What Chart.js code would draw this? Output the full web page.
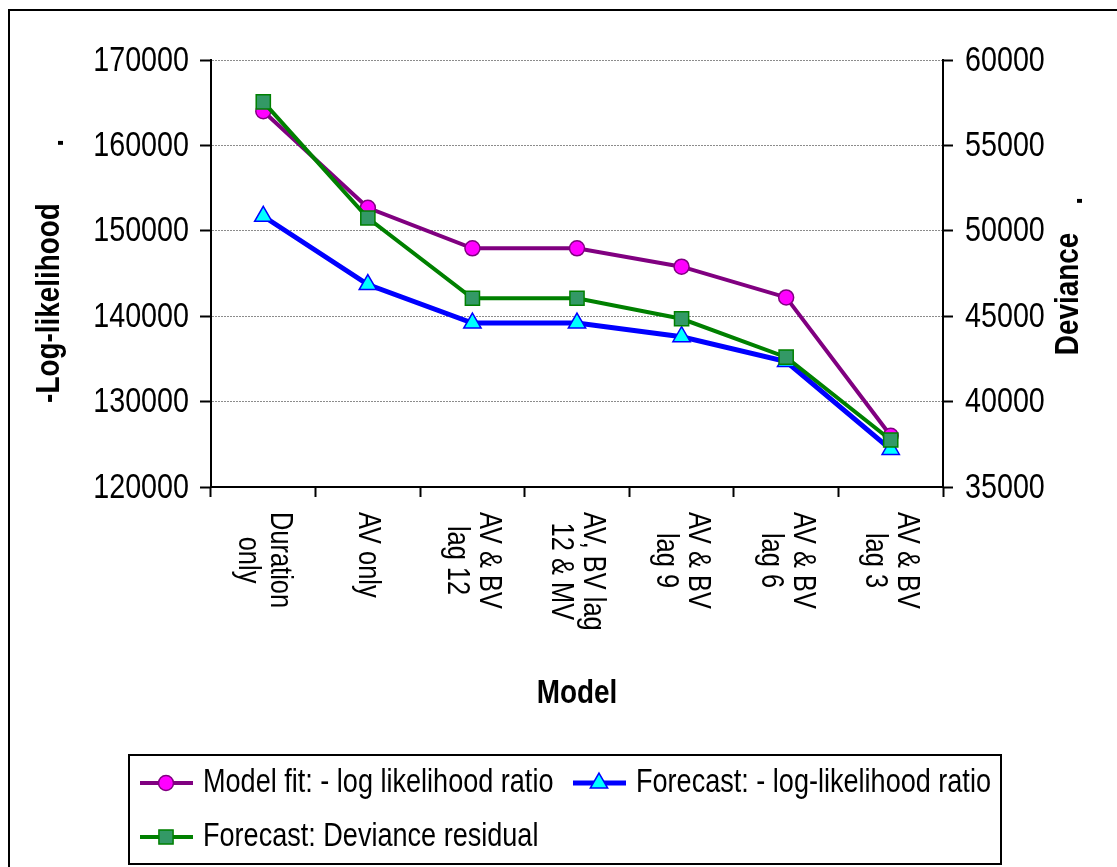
<!DOCTYPE html>
<html>
<head>
<meta charset="utf-8">
<script src="https://cdn.jsdelivr.net/npm/chart.js@4/dist/chart.umd.min.js"></script>
<style>
  html, body { margin: 0; padding: 0; background: #fff; }
  canvas { display: block; }
</style>
</head>
<body>
<canvas id="fitChart" width="1117" height="867"></canvas>
<script>
// Model comparison: model fit vs forecast measures

const models = [
    ['Duration', 'only'],
    ['AV only'],
    ['AV & BV', 'lag 12'],
    ['AV, BV lag', '12 & MV'],
    ['AV & BV', 'lag 9'],
    ['AV & BV', 'lag 6'],
    ['AV & BV', 'lag 3']
];

const modelFitLogLik = [164000, 152700, 147950, 147950, 145800, 142200, 126000];
const forecastLogLik = [151700, 143700, 139200, 139200, 137600, 134700, 124400];
const forecastDeviance = [57550, 50750, 46050, 46050, 44850, 42600, 37750];

const leftTicks = [120000, 130000, 140000, 150000, 160000, 170000];
const rightTicks = [35000, 40000, 45000, 50000, 55000, 60000];

const seriesNames = [
    'Model fit: - log likelihood ratio',
    'Forecast: - log-likelihood ratio',
    'Forecast: Deviance residual'
];

const FONT = "'Liberation Sans', Arial, sans-serif";
const SQUEEZE = 0.82; // no narrow face installed, so squeeze the regular one

// text drawn at (x, y) in the current frame, compressed along its baseline
function narrowText(ctx, txt, x, y) {
    ctx.save();
    ctx.translate(x, y);
    ctx.scale(SQUEEZE, 1);
    ctx.fillText(txt, 0, 0);
    ctx.restore();
}

// draws tick labels, rotated category labels, axis titles, legend box and frame
const extrasPlugin = {
    id: 'extras',
    afterDraw(chart) {
        const ctx = chart.ctx;
        const area = chart.chartArea;
        const xScale = chart.scales.x;
        const yL = chart.scales.y;
        const yR = chart.scales.y1;

        ctx.save();
        ctx.fillStyle = '#000';

        // value axis labels
        ctx.font = '35px ' + FONT;
        ctx.textBaseline = 'middle';
        ctx.textAlign = 'right';
        leftTicks.forEach(v => narrowText(ctx, String(v), area.left - 22, yL.getPixelForValue(v) + 1));
        ctx.textAlign = 'left';
        rightTicks.forEach(v => narrowText(ctx, String(v), area.right + 22, yR.getPixelForValue(v) + 1));

        // category labels, read top to bottom
        ctx.font = '31px ' + FONT;
        ctx.textAlign = 'left';
        const lineH = 32;
        models.forEach((lines, i) => {
            const cx = xScale.getPixelForValue(i);
            const widths = lines.map(l => ctx.measureText(l).width * SQUEEZE);
            const maxW = Math.max(...widths);
            ctx.save();
            ctx.translate(cx, area.bottom + 25);
            ctx.rotate(Math.PI / 2);
            lines.forEach((txt, j) => {
                narrowText(ctx, txt, (maxW - widths[j]) / 2, (j - (lines.length - 1) / 2) * lineH);
            });
            ctx.restore();
        });

        // axis titles
        ctx.font = 'bold 34px ' + FONT;
        ctx.textAlign = 'center';
        narrowText(ctx, 'Model', (area.left + area.right) / 2, 694);

        ctx.save();
        ctx.translate(50, 303);
        ctx.rotate(-Math.PI / 2);
        narrowText(ctx, '-Log-likelihood', 0, 0);
        narrowText(ctx, '.', 160, 4);
        ctx.restore();

        ctx.save();
        ctx.translate(1069, 294);
        ctx.rotate(-Math.PI / 2);
        narrowText(ctx, 'Deviance', 0, 0);
        narrowText(ctx, '.', 93, 4);
        ctx.restore();

        // legend
        const lx = 129, ly = 755, lw = 872, lh = 109;
        ctx.lineWidth = 2;
        ctx.strokeStyle = '#000';
        ctx.strokeRect(lx, ly, lw, lh);

        const slots = [[140, 783], [573, 783], [140, 837]];
        ctx.font = '33px ' + FONT;
        ctx.textAlign = 'left';
        chart.data.datasets.forEach((ds, i) => {
            const [sx, sy] = slots[i];
            ctx.beginPath();
            ctx.lineWidth = ds.borderWidth;
            ctx.strokeStyle = ds.borderColor;
            ctx.moveTo(sx, sy);
            ctx.lineTo(sx + 53, sy);
            ctx.stroke();
            ctx.fillStyle = ds.pointBackgroundColor;
            ctx.strokeStyle = ds.pointBorderColor;
            ctx.lineWidth = ds.pointBorderWidth;
            Chart.helpers.drawPoint(ctx, {
                pointStyle: ds.pointStyle,
                radius: ds.pointRadius,
                rotation: 0,
                borderWidth: ds.pointBorderWidth
            }, sx + 26, sy);
            ctx.fillStyle = '#000';
            narrowText(ctx, ds.label, sx + 63, sy);
        });

        // outer frame
        ctx.lineWidth = 2;
        ctx.strokeStyle = '#000';
        ctx.strokeRect(9, 10, 1200, 1000);
        ctx.restore();
    }
};

const ctx = document.getElementById('fitChart');

new Chart(ctx, {
    type: 'line',
    data: {
        labels: models.map(m => m.join(' ')),
        datasets: [
            {
                label: seriesNames[0],
                data: modelFitLogLik,
                yAxisID: 'y',
                borderColor: '#800080',
                borderWidth: 4,
                pointStyle: 'circle',
                pointRadius: 7.5,
                pointBackgroundColor: '#ff00ff',
                pointBorderColor: '#800080',
                pointBorderWidth: 1.5,
                tension: 0,
                order: 3
            },
            {
                label: seriesNames[1],
                data: forecastLogLik,
                yAxisID: 'y',
                borderColor: '#0000ff',
                borderWidth: 5,
                pointStyle: 'triangle',
                pointRadius: 10,
                pointBackgroundColor: '#00ffff',
                pointBorderColor: '#0000ff',
                pointBorderWidth: 1.5,
                tension: 0,
                order: 2
            },
            {
                label: seriesNames[2],
                data: forecastDeviance,
                yAxisID: 'y1',
                borderColor: '#008000',
                borderWidth: 4,
                pointStyle: 'rect',
                pointRadius: 10,
                pointBackgroundColor: '#339966',
                pointBorderColor: '#008000',
                pointBorderWidth: 1.5,
                tension: 0,
                order: 1
            }
        ]
    },
    options: {
        responsive: false,
        animation: false,
        events: [],
        layout: { padding: { top: 60, left: 0, right: 0, bottom: 0 } },
        plugins: {
            legend: { display: false },
            tooltip: { enabled: false }
        },
        scales: {
            x: {
                offset: true,
                grid: { offset: true, drawOnChartArea: false, tickLength: 10, tickColor: '#000', tickWidth: 2 },
                border: { color: '#000', width: 2 },
                ticks: { display: false },
                afterFit: s => { s.height = 380; }
            },
            y: {
                position: 'left',
                min: leftTicks[0],
                max: leftTicks[leftTicks.length - 1],
                afterBuildTicks: s => { s.ticks = leftTicks.map(v => ({ value: v })); },
                grid: { color: '#8c8c8c', lineWidth: 1, tickLength: 11, tickColor: '#000', tickWidth: 2 },
                border: { color: '#000', width: 2, dash: [2, 1] },
                ticks: { display: false },
                afterFit: s => { s.width = 211; }
            },
            y1: {
                position: 'right',
                min: rightTicks[0],
                max: rightTicks[rightTicks.length - 1],
                afterBuildTicks: s => { s.ticks = rightTicks.map(v => ({ value: v })); },
                grid: { drawOnChartArea: false, tickLength: 10, tickColor: '#000', tickWidth: 2 },
                border: { color: '#000', width: 2 },
                ticks: { display: false },
                afterFit: s => { s.width = 174; }
            }
        }
    },
    plugins: [extrasPlugin]
});
</script>
</body>
</html>
